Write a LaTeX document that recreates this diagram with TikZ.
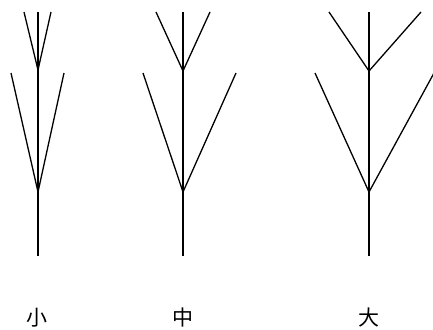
\documentclass[tikz,border=0pt]{standalone}
\usepackage{fontspec}
\newfontfamily\cjk{Noto Sans CJK SC}
\tikzset{
  stem/.style={line width=1.7pt},
  branch/.style={line width=1.3pt},
  sizelabel/.style={font=\cjk\fontsize{21}{21}\selectfont,inner sep=0pt}
}
\begin{document}
\begin{tikzpicture}[x=1pt,y=-1pt]
  \useasboundingbox (0,0) rectangle (433,329);

  % small
  \coordinate (s0) at (38,256);
  \coordinate (s1) at (38,192);
  \coordinate (s2) at (38,70);
  \coordinate (st) at (38,12);
  \draw[stem] (s0) -- (st);
  \draw[branch] (11,73) -- (s1) -- (64,73);
  \draw[branch] (24,12) -- (s2) -- (51,12);
  \node[sizelabel] (ls) at (37,318) {小};

  % medium
  \coordinate (m0) at (183,256);
  \coordinate (m1) at (183,192);
  \coordinate (m2) at (183,71);
  \coordinate (mt) at (183,12);
  \draw[stem] (m0) -- (mt);
  \draw[branch] (143,73) -- (m1) -- (236,73);
  \draw[branch] (156,12) -- (m2) -- (210,12);
  \node[sizelabel] (lm) at (183,318) {中};

  % large
  \coordinate (l0) at (369,256);
  \coordinate (l1) at (369,192);
  \coordinate (l2) at (369,71);
  \coordinate (lt) at (369,12);
  \draw[stem] (l0) -- (lt);
  \draw[branch] (315,73) -- (l1) -- (434,73);
  \draw[branch] (329,12) -- (l2) -- (421,12);
  \node[sizelabel] (ll) at (369,318) {大};
\end{tikzpicture}
\end{document}
